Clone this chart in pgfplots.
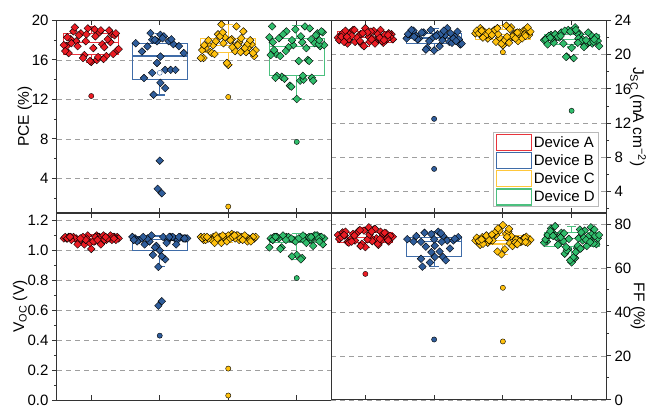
\documentclass[border=0pt]{standalone}
\usepackage{fontspec}
\setmainfont{Liberation Sans}
\usepackage{pgfplots}
\usepackage{pgfplotstable}
\pgfplotsset{compat=1.18}
\usepgfplotslibrary{statistics}

\definecolor{cA}{HTML}{EC1C24}
\definecolor{cB}{HTML}{2F5D9B}
\definecolor{cC}{HTML}{FFC10E}
\definecolor{cD}{HTML}{30BD6C}
\definecolor{bA}{HTML}{E8343C}
\definecolor{bB}{HTML}{3F6CA8}
\definecolor{bC}{HTML}{FFC73A}
\definecolor{bD}{HTML}{4CC07F}

% jitter offset dx, then one column per group (P=PCE, j=Jsc, v=Voc, f=FF)
\pgfplotstableread{
dx pA pC pD jA jB jC jD vA vB vC vD fA fC fD
-0.36 17.4 16.2 19.4 22.3 22.5 22.6 21.9 1.08 1.08 1.07 1.08 74.5 72.0 72.0
0.12 18.8 19.4 19.4 22.8 21.7 23.2 22.4 1.09 1.07 1.10 1.09 77.5 74.5 77.5
-0.05 19.2 18.3 17.5 21.2 22.9 22.0 22.9 1.10 1.03 1.09 1.07 71.0 77.0 68.5
0.30 18.6 17.3 18.7 21.7 22.1 22.8 21.3 1.07 1.09 1.08 1.10 75.8 73.5 75.5
-0.22 17.9 17.5 14.3 22.6 21.9 21.9 22.1 1.08 1.04 1.09 1.02 73.0 71.5 74.0
0.05 19.1 18.1 13.9 22.1 22.4 23.4 23.2 1.06 1.09 1.11 1.08 78.5 75.5 64.5
0.38 17.0 16.4 18.8 22.4 21.2 22.3 21.6 1.09 1.08 1.08 1.04 74.0 73.0 73.5
-0.15 18.7 18.6 18.9 21.5 22.6 22.7 22.6 1.08 1.06 1.07 1.09 72.5 72.5 76.0
0.22 16.4 18.9 14.2 22.9 21.5 21.6 21.2 1.07 1.08 1.09 1.07 76.5 72.8 70.0
-0.30 18.1 17.6 16.6 21.9 22.8 22.9 22.3 1.09 1.07 1.08 1.09 74.8 74.0 78.0
0.00 15.8 15.5 12.05 23.1 20.5 21.1 20.8 1.01 1.00 1.10 0.97 69.5 79.5 62.5
0.16 17.6 17.8 16.0 21.6 22.3 22.4 21.8 1.08 1.09 1.07 1.08 73.5 71.0 72.5
-0.40 17.5 16.2 18.3 22.0 21.9 22.5 21.7 1.08 1.09 1.09 1.02 75.0 72.5 71.5
0.34 18.5 17.6 17.4 22.5 22.7 23.0 22.0 1.09 1.08 1.08 1.09 72.0 74.2 74.5
-0.10 16.5 19.6 13.4 22.2 20.8 21.5 22.8 1.04 0.97 1.05 1.08 76.8 75.0 66.5
0.26 19.0 16.8 17.7 21.4 21.4 22.2 21.5 1.08 1.07 1.09 1.10 75.5 71.8 73.0
-0.26 18.9 16.8 18.2 21.3 22.2 22.6 21.4 1.09 1.08 1.08 1.08 71.8 73.5 75.5
0.08 16.0 17.4 17.8 22.7 21.0 21.8 22.5 1.10 0.94 1.10 0.95 73.8 76.5 69.0
-0.33 16.7 17.2 17.0 22.5 22.9 23.1 22.2 1.09 1.06 1.07 1.09 76.2 70.5 74.8
0.19 17.3 18.2 19.2 22.0 23.1 22.5 21.1 1.07 1.09 1.09 1.07 70.5 73.0 77.0
-0.02 15.9 15.7 19.1 21.0 22.0 21.3 22.7 1.05 0.89 1.06 1.06 77.0 66.2 63.5
0.40 17.1 17.0 17.5 21.8 21.3 22.7 21.0 1.08 1.08 1.09 1.08 74.2 72.8 75.0
-0.18 18.5 17.9 14.1 22.9 22.6 22.2 22.0 1.06 1.08 1.10 1.09 75.5 74.6 71.0
0.10 16.3 16.9 14.0 21.9 22.4 23.0 21.9 1.09 1.05 1.08 1.07 72.2 71.2 73.5
-0.07 18.6 17.7 18.0 22.4 21.6 22.4 19.8 1.08 1.02 1.09 0.96 70.0 78.0 68.0
0.28 17.8 17.6 18.5 22.3 21.9 21.9 22.3 1.10 1.09 1.06 1.10 76.0 72.2 78.5
-0.38 16.9 17.0 16.5 21.7 22.4 22.8 21.8 1.09 1.07 1.08 1.08 73.2 73.8 73.0
0.14 19.0 17.5 17.2 21.3 22.8 22.1 21.6 1.04 1.09 1.10 1.05 77.8 70.0 76.2
0.36 18.7 16.7 18.9 22.1 21.8 23.2 22.1 1.07 1.08 1.09 1.09 74.6 71.5 70.8
-0.24 19.3 16.7 16.4 21.8 21.8 22.3 22.4 1.08 1.09 1.07 1.01 71.5 74.8 79.0
0.03 17.2 18.0 15.9 22.6 22.2 21.7 19.6 1.06 0.96 1.08 1.08 73.0 68.5 65.0
-0.12 16.2 18.4 17.3 22.0 20.6 22.9 21.3 1.09 1.10 1.09 1.09 75.8 76.0 72.2
0.24 18.1 17.2 13.9 21.6 22.5 22.6 22.6 1.08 1.04 1.10 1.03 72.8 72.0 74.2
-0.29 17.7 18.0 14.4 22.8 22.1 22.0 21.9 1.07 nan 1.08 1.09 76.5 71.0 76.5
0.32 16.6 18.0 17.6 21.9 21.6 22.4 21.5 1.09 nan 1.07 1.08 73.5 73.6 71.2
-0.20 17.4 16.6 18.6 22.2 nan 22.7 22.1 1.04 nan 1.05 1.10 72.0 72.6 70.5
0.06 18.4 17.3 18.4 21.5 nan 22.1 22.9 1.09 nan 1.09 0.94 75.2 74.0 67.2
-0.35 18.3 17.5 17.8 22.1 nan 22.5 21.2 1.08 nan 1.09 1.07 74.0 72.4 75.0
0.18 16.1 16.8 15.9 22.4 nan 21.9 20.9 1.10 nan 1.08 1.09 71.0 71.5 73.8
-0.08 17.9 18.8 13.3 21.6 nan 23.1 19.75 1.07 nan 1.10 1.08 77.2 67.5 69.5
-0.16 nan nan 16.9 22.9 nan 22.3 22.2 1.08 nan 1.08 1.07 74.8 75.2 74.0
0.21 nan nan 18.1 22.0 nan 22.6 21.7 1.09 nan 1.07 1.09 73.2 70.8 72.8
-0.31 nan nan 14.2 21.5 nan 22.8 22.0 1.09 nan 1.09 1.09 75.0 73.0 76.8
0.09 nan nan 14.4 21.8 nan 21.4 21.4 1.07 nan 1.10 1.10 76.6 77.8 70.2
0.33 nan nan 18.0 22.3 nan 22.2 21.8 1.08 nan 1.06 1.06 72.6 71.8 77.5
-0.04 nan nan nan 22.5 nan nan nan nan nan nan nan nan nan 73.2
0.27 nan nan nan 21.7 nan nan nan nan nan nan nan nan nan 71.8
-0.27 nan nan nan 22.1 nan nan nan nan nan nan nan nan nan 74.6
0.13 nan nan nan nan nan nan nan nan nan nan nan nan nan 68.8
-0.11 nan nan nan nan nan nan nan nan nan nan nan nan nan 75.8
}\pts

\pgfplotstableread{
x y
1.65 17.70
1.74 16.86
1.82 17.37
1.89 18.05
1.96 17.90
2.01 18.55
2.06 18.40
2.13 17.90
2.20 17.60
2.28 17.40
2.35 16.70
1.96 15.70
2.01 16.35
1.77 14.17
1.89 14.70
2.08 15.00
2.16 15.00
2.23 15.00
2.01 13.69
2.08 13.15
1.91 12.48
1.865 18.72
2.04 18.20
1.93 18.05
2.17 18.10
2.00 5.80
1.97 2.95
2.03 2.50
}\pceB

\pgfplotstableread{
x y
1.61 73.1
1.74 74.5
1.86 76.0
1.96 75.4
2.06 76.5
2.13 74.5
2.19 72.5
2.28 72.5
2.35 74.0
1.81 71.9
1.88 69.7
2.01 70.1
2.11 71.9
2.23 68.9
1.96 67.2
2.08 67.5
1.81 64.2
1.94 62.5
2.01 65.0
2.13 65.0
2.17 63.5
1.83 60.6
2.00 73.0
1.70 72.0
2.30 73.3
2.10 75.8
}\ffB

\pgfplotsset{
  panel/.style={scale only axis, xmin=0.5, xmax=4.5,
    xtick={1,2,3,4}, xticklabels={}, xtick pos=both,
    xtick align=inside, ytick align=outside,
    major tick length=5pt, minor tick length=3pt,
    axis line style={black!80, line width=1pt},
    every tick/.style={black!80, line width=1pt},
    ymajorgrids, major grid style={gray!75, dash pattern=on 5pt off 4pt, line width=0.9pt},
    ticklabel style={font=\fontsize{15}{18}\selectfont},
    /pgf/number format/assume math mode=true,
    label style={font=\fontsize{15.5}{18}\selectfont},
    clip=false},
  lpanel/.style={panel, ytick pos=left},
  rpanel/.style={panel, ytick pos=right, yticklabel pos=right},
  pts/.style={only marks, mark=square*, mark size=2.7pt, mark options={rotate=45, draw=none, fill=#1}},
  outl/.style={only marks, mark=*, mark size=2.6pt, mark options={draw=none, fill=#1}},
  bx/.style={draw=#1, line width=1.1pt, solid, mark=none, boxplot/draw direction=y,
    boxplot/whisker extend=0.14, boxplot/box extend=0.8},
}

\begin{document}
\begin{tikzpicture}

% ---------- PCE ----------
\begin{axis}[lpanel, at={(57pt,-20.5pt)}, anchor=north west, width=274pt, height=192.5pt,
  ymin=0.5, ymax=20, ytick={4,8,12,16,20}, minor ytick={2,6,10,14,18},
  ylabel={PCE (\%)}, ylabel style={at={(axis description cs:-0.117,0.5)}, anchor=center}]
\addplot[bx=bA, boxplot prepared={draw position=1, lower whisker=15.7, lower quartile=16.6, median=17.8, upper quartile=18.65, upper whisker=19.4}] coordinates {};
\addplot[bx=bB, boxplot prepared={draw position=2, lower whisker=12.45, lower quartile=14.05, median=16.4, upper quartile=17.7, upper whisker=18.7}] coordinates {};
\addplot[bx=bC, boxplot prepared={draw position=3, lower whisker=15.5, lower quartile=16.8, median=17.5, upper quartile=18.15, upper whisker=19.6}] coordinates {};
\addplot[bx=bD, boxplot prepared={draw position=4, lower whisker=12.05, lower quartile=14.4, median=17.35, upper quartile=18.2, upper whisker=19.45}] coordinates {};
\addplot[pts=cA] table[x expr=\thisrow{dx}+1, y=pA] {\pts};
\addplot[pts=cB] table[x=x, y=y] {\pceB};
\addplot[pts=cC] table[x expr=\thisrow{dx}+3, y=pC] {\pts};
\addplot[pts=cD] table[x expr=\thisrow{dx}+4, y=pD] {\pts};
\addplot[only marks, mark=o, mark size=2.5pt, bB] coordinates {(2,14.7)};
\addplot[outl=cA] coordinates {(1,12.35)};
\addplot[outl=cC] coordinates {(3,12.25) (3,1.15)};
\addplot[outl=cD] coordinates {(4,7.7)};
\end{axis}

% ---------- Jsc ----------
\begin{axis}[rpanel, at={(331pt,-20.5pt)}, anchor=north west, width=275pt, height=192.5pt,
  ymin=1.5, ymax=24, ytick={4,8,12,16,20,24}, minor ytick={2,6,10,14,18,22},
  ylabel={J\textsubscript{SC} (mA cm\textsuperscript{−2})},
  ylabel style={at={(axis description cs:1.116,0.5)}, anchor=center, rotate=180},
  legend style={at={(1,0)}, anchor=south east, xshift=-7pt, yshift=6pt,
    draw=gray!55, line width=0.8pt, font=\fontsize{15}{18}\selectfont,
    row sep=1pt, inner xsep=2pt, inner ysep=1pt},
  legend cell align=left]
\addlegendimage{legend image code/.code={\draw[draw=bA, line width=1.2pt] (0pt,-8pt) rectangle (35pt,8pt);}}
\addlegendentry{Device A}
\addlegendimage{legend image code/.code={\draw[draw=bB, line width=1.2pt] (0pt,-8pt) rectangle (35pt,8pt);}}
\addlegendentry{Device B}
\addlegendimage{legend image code/.code={\draw[draw=bC, line width=1.2pt] (0pt,-8pt) rectangle (35pt,8pt);}}
\addlegendentry{Device C}
\addlegendimage{legend image code/.code={\draw[draw=bD, line width=1.2pt] (0pt,-8pt) rectangle (35pt,8pt);}}
\addlegendentry{Device D}
\addplot[bx=bA, boxplot prepared={draw position=1, lower whisker=21.0, lower quartile=21.47, median=22.0, upper quartile=22.7, upper whisker=23.1}] coordinates {};
\addplot[bx=bB, boxplot prepared={draw position=2, lower whisker=20.5, lower quartile=21.36, median=21.95, upper quartile=22.53, upper whisker=23.1}] coordinates {};
\addplot[bx=bC, boxplot prepared={draw position=3, lower whisker=21.1, lower quartile=21.82, median=22.4, upper quartile=23.0, upper whisker=23.4}] coordinates {};
\addplot[bx=bD, boxplot prepared={draw position=4, lower whisker=20.9, lower quartile=21.16, median=21.8, upper quartile=22.4, upper whisker=23.2}] coordinates {};
\addplot[pts=cA] table[x expr=\thisrow{dx}+1, y=jA] {\pts};
\addplot[pts=cB] table[x expr=\thisrow{dx}+2, y=jB] {\pts};
\addplot[pts=cC] table[x expr=\thisrow{dx}+3, y=jC] {\pts};
\addplot[pts=cD] table[x expr=\thisrow{dx}+4, y=jD] {\pts};
\addplot[outl=cB] coordinates {(2,12.5) (2,6.65)};
\addplot[outl=cC] coordinates {(3,20.3)};
\addplot[outl=cD] coordinates {(4,13.45)};
\end{axis}

% ---------- Voc ----------
\begin{axis}[lpanel, at={(57pt,-213pt)}, anchor=north west, width=274pt, height=187pt,
  ymin=0, ymax=1.25, ytick={0,0.2,0.4,0.6,0.8,1.0,1.2}, minor ytick={0.1,0.3,0.5,0.7,0.9,1.1},
  yticklabel style={/pgf/number format/.cd, fixed, fixed zerofill, precision=1},
  ylabel={V\textsubscript{OC} (V)}, ylabel style={at={(axis description cs:-0.135,0.5)}, anchor=center}]
\addplot[bx=bA, boxplot prepared={draw position=1, lower whisker=1.04, lower quartile=1.065, median=1.08, upper quartile=1.09, upper whisker=1.105}] coordinates {};
\addplot[bx=bB, boxplot prepared={draw position=2, lower whisker=0.89, lower quartile=1.0, median=1.075, upper quartile=1.092, upper whisker=1.10}] coordinates {};
\addplot[bx=bC, boxplot prepared={draw position=3, lower whisker=1.05, lower quartile=1.07, median=1.085, upper quartile=1.095, upper whisker=1.11}] coordinates {};
\addplot[bx=bD, boxplot prepared={draw position=4, lower whisker=0.94, lower quartile=1.05, median=1.08, upper quartile=1.09, upper whisker=1.11}] coordinates {};
\addplot[pts=cA] table[x expr=\thisrow{dx}+1, y=vA] {\pts};
\addplot[pts=cB] table[x expr=\thisrow{dx}+2, y=vB] {\pts};
\addplot[pts=cC] table[x expr=\thisrow{dx}+3, y=vC] {\pts};
\addplot[pts=cD] table[x expr=\thisrow{dx}+4, y=vD] {\pts};
\addplot[pts=cB] coordinates {(2.03,0.66) (1.98,0.63)};
\addplot[outl=cB] coordinates {(2,0.43)};
\addplot[outl=cC] coordinates {(3,0.21) (3,0.03)};
\addplot[outl=cD] coordinates {(4,0.815)};
\end{axis}

% ---------- FF ----------
\begin{axis}[rpanel, at={(331pt,-213pt)}, anchor=north west, width=275pt, height=187pt,
  ymin=0, ymax=85, ytick={0,20,40,60,80}, minor ytick={10,30,50,70},
  ylabel={FF (\%)},
  ylabel style={at={(axis description cs:1.116,0.5)}, anchor=center, rotate=180}]
\addplot[bx=bA, boxplot prepared={draw position=1, lower whisker=69.5, lower quartile=71.6, median=74.0, upper quartile=76.0, upper whisker=78.5}] coordinates {};
\addplot[bx=bB, boxplot prepared={draw position=2, lower whisker=60.5, lower quartile=65.4, median=71.9, upper quartile=73.8, upper whisker=76.5}] coordinates {};
\addplot[bx=bC, boxplot prepared={draw position=3, lower whisker=66.2, lower quartile=70.9, median=72.5, upper quartile=74.8, upper whisker=79.5}] coordinates {};
\addplot[bx=bD, boxplot prepared={draw position=4, lower whisker=62.5, lower quartile=69.7, median=73.5, upper quartile=76.0, upper whisker=79.0}] coordinates {};
\addplot[pts=cA] table[x expr=\thisrow{dx}+1, y=fA] {\pts};
\addplot[pts=cB] table[x=x, y=y] {\ffB};
\addplot[pts=cC] table[x expr=\thisrow{dx}+3, y=fC] {\pts};
\addplot[pts=cD] table[x expr=\thisrow{dx}+4, y=fD] {\pts};
\addplot[outl=cA] coordinates {(1,57.3)};
\addplot[outl=cB] coordinates {(2,27.5)};
\addplot[outl=cC] coordinates {(3,51.0) (3,26.6)};
\end{axis}

\pgfresetboundingbox
\path[use as bounding box] (0pt,0pt) rectangle (648pt,-409pt);
\end{tikzpicture}
\end{document}
